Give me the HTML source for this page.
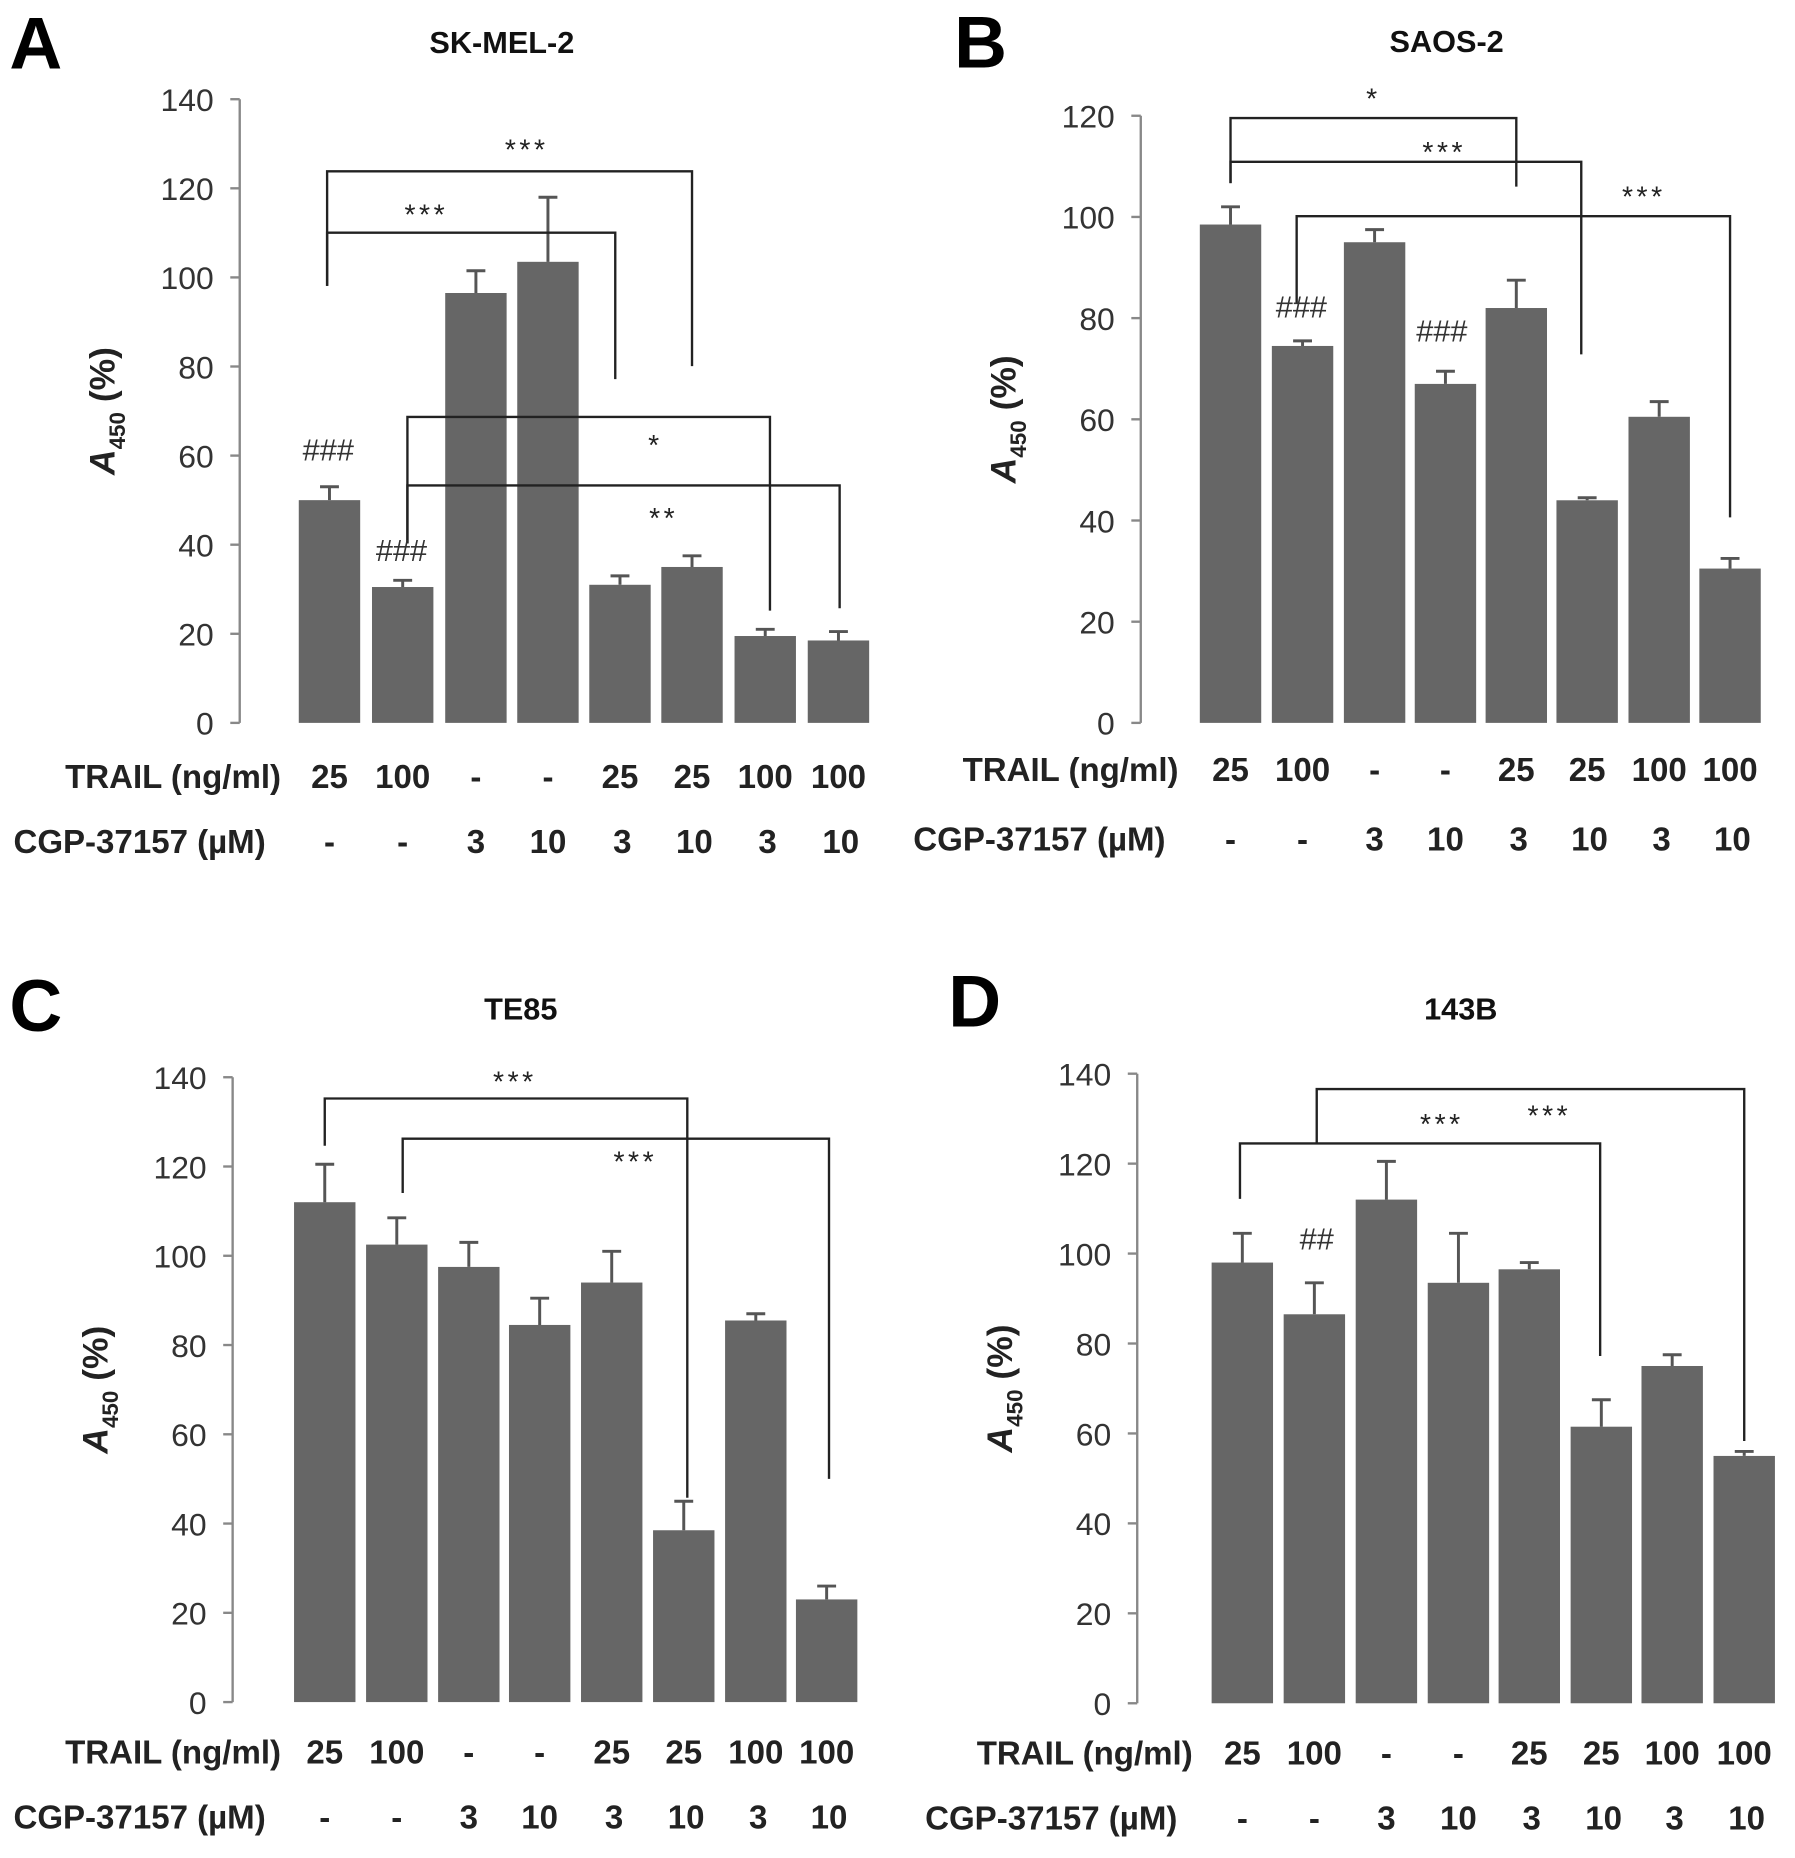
<!DOCTYPE html>
<html><head><meta charset="utf-8"><style>
html,body{margin:0;padding:0;background:#fff}
svg{display:block}
text{font-family:"Liberation Sans",Arial,sans-serif}
</style></head><body>
<svg id="fig" width="1795" height="1858" viewBox="0 0 1520 1573" preserveAspectRatio="none" xmlns="http://www.w3.org/2000/svg"></svg>
<script>
// Data
const trailLabels = ["25","100","-","-","25","25","100","100"];
const cgpLabels = ["-","-","3","10","3","10","3","10"];
const valuesA = [50,30.5,96.5,103.5,31,35,19.5,18.5];
const errTopA = [53,32,101.5,118,33,37.5,21,20.5];
const valuesB = [98.5,74.5,95,67,82,44,60.5,30.5];
const errTopB = [102,75.5,97.5,69.5,87.5,44.5,63.5,32.5];
const valuesC = [112,102.5,97.5,84.5,94,38.5,85.5,23];
const errTopC = [120.5,108.5,103,90.5,101,45,87,26];
const valuesD = [98,86.5,112,93.5,96.5,61.5,75,55];
const errTopD = [104.5,93.5,120.5,104.5,98,67.5,77.5,56];
const ticksA = [0,20,40,60,80,100,120,140];
const ticksB = [0,20,40,60,80,100,120];

const NS="http://www.w3.org/2000/svg";
const svg=document.getElementById('fig');
function el(tag,attrs,parent){const e=document.createElementNS(NS,tag);for(const k in attrs)e.setAttribute(k,attrs[k]);(parent||svg).appendChild(e);return e;}
function txt(x,y,s,size,opts,parent){const t=el('text',Object.assign({x:x,y:y,'font-size':size,fill:'#222'},opts||{}),parent);t.textContent=s;return t;}

const panels=[
 {id:'a',letter:'A',lx:8,ly:58,title:'SK-MEL-2',tx:425,ty:45,axisX:203,y0:612,yTop:84,max:140,ticks:ticksA,cx:[279,341,403,464,525,586,648,710],vals:valuesA,err:errTopA,trailY:667,cgpY:722,trailX:238,cgpX:225,
  brackets:[[277,586,145,242,310,'***',446,135],[277,521,197,242,321,'***',361,190],[345,652,353,460,517,'*',555,385],[345,711,411,460,515,'**',562,447]],
  hashes:[['###',278,390],['###',340,475]]},
 {id:'b',letter:'B',lx:808,ly:57,title:'SAOS-2',tx:1225,ty:44,axisX:966,y0:612,yTop:98,max:120,ticks:ticksB,cx:[1042,1103,1164,1224,1284,1344,1405,1465],vals:valuesB,err:errTopB,trailY:661,cgpY:720,trailX:998,cgpX:987,
  brackets:[[1042,1284,100,155,158,'*',1163,92],[1042,1339,137,155,300,'***',1223,137],[1098,1465,183,257,438,'***',1392,175]],
  hashes:[['###',1102,269],['###',1221,289]]},
 {id:'c',letter:'C',lx:8,ly:873,title:'TE85',tx:441,ty:863,axisX:197,y0:1441,yTop:912,max:140,ticks:ticksA,cx:[275,336,397,457,518,579,640,700],vals:valuesC,err:errTopC,trailY:1493,cgpY:1548,trailX:238,cgpX:225,
  brackets:[[275,582,930,970,1268,'***',436,924],[341,702,964,1010,1252,'***',538,992]],hashes:[]},
 {id:'d',letter:'D',lx:803,ly:869,title:'143B',tx:1237,ty:863,axisX:963,y0:1442,yTop:909,max:140,ticks:ticksA,cx:[1052,1113,1174,1235,1295,1356,1416,1477],vals:valuesD,err:errTopD,trailY:1494,cgpY:1549,trailX:1010,cgpX:997,
  brackets:[[1115,1477,922,968,1220,'***',1312,953],[1050,1355,968,1015,1148,'***',1221,960]],
  hashes:[['##',1115,1058]]}
];

panels.forEach(p=>{
  const g=el('g',{});
  
  
  const yS=v=>p.y0-(v/p.max)*(p.y0-p.yTop);
  const L=txt(p.lx,p.ly,p.letter,62,{'font-weight':'bold',fill:'#000'},g);
  
  
  const T=txt(p.tx,p.ty,p.title,26,{'font-weight':'bold','text-anchor':'middle',fill:'#111'},g);
  
  
  const ax=el('line',{x1:p.axisX,x2:p.axisX,y1:yS(0),y2:yS(p.max),stroke:'#888','stroke-width':2},g);
  
  
  p.ticks.forEach(t=>{
    el('line',{x1:p.axisX-8,x2:p.axisX,y1:yS(t),y2:yS(t),stroke:'#888','stroke-width':2},g);
    const tl=txt(p.axisX-22,yS(t)+10,String(t),27,{'text-anchor':'end',fill:'#333'},g);
    
    
  });
  const midY=(yS(0)+yS(p.max))/2;
  const yt=el('text',{transform:`translate(${p.axisX-106},${midY}) rotate(-90)`,'text-anchor':'middle','font-size':30,'font-weight':'bold',fill:'#222'},g);
  
  
  yt.innerHTML='<tspan font-style="italic">A</tspan><tspan font-size="19" dy="9">450</tspan><tspan dy="-9"> (%)</tspan>';
  p.vals.forEach((v,i)=>{
    const x=p.cx[i];
    const b=el('rect',{x:x-26,y:yS(v),width:52,height:yS(0)-yS(v),fill:'#666'},g);
    
    
    const e=el('path',{d:`M${x},${yS(v)}V${yS(p.err[i])}M${x-8},${yS(p.err[i])}H${x+8}`,stroke:'#555','stroke-width':2.5,fill:'none'},g);
    
    
    const t1=txt(x,p.trailY,trailLabels[i],28,{'text-anchor':'middle','font-weight':'bold',fill:'#222'},g);
    
    
    const t2=txt(x+(i>=4?2:0),p.cgpY,cgpLabels[i],28,{'text-anchor':'middle','font-weight':'bold',fill:'#222'},g);
    
    
  });
  const rl=txt(p.trailX,p.trailY,'TRAIL (ng/ml)',28,{'text-anchor':'end','font-weight':'bold',fill:'#222'},g);
  
  
  const cl=txt(p.cgpX,p.cgpY,'CGP-37157 (µM)',28,{'text-anchor':'end','font-weight':'bold',fill:'#222'},g);
  
  
  p.brackets.forEach(b=>{
    const [x1,x2,y,d1,d2,s,sx,sy]=b;
    const pb=el('path',{d:`M${x1},${d1}V${y}H${x2}V${d2}`,stroke:'#222','stroke-width':2,fill:'none'},g);
    
    
    const st=txt(sx,sy,s,24,{'text-anchor':'middle',fill:'#222','font-family':'Liberation Serif, serif','letter-spacing':'3'},g);
    
    
  });
  p.hashes.forEach(h=>{
    const ht=txt(h[1],h[2],h[0],26,{'text-anchor':'middle',fill:'#333','font-family':'Liberation Serif, serif'},g);
    
    
  });
});
</script>
</body></html>
